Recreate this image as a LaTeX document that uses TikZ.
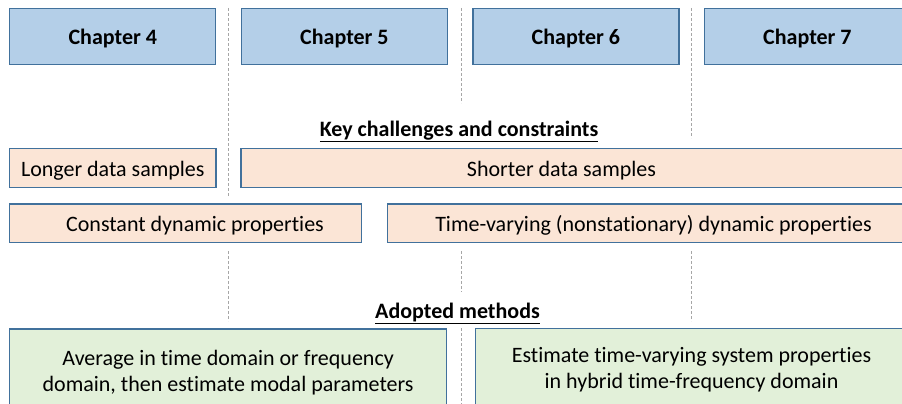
\documentclass[tikz,border=0pt]{standalone}
\usepackage{fontspec}
\setmainfont{Carlito}[Ligatures={NoCommon,NoRare}]
\definecolor{chapblue}{HTML}{B4CFE8}
\definecolor{peachfill}{HTML}{FBE5D6}
\definecolor{greenfill}{HTML}{E2F0D9}
\definecolor{edgeblue}{HTML}{41719C}
\definecolor{guidegrey}{HTML}{A6A6A6}
\begin{document}
\begin{tikzpicture}[x=1pt,y=-1pt,
    chapbox/.style={draw=edgeblue,line width=1.3pt,fill=chapblue,minimum width=206pt,minimum height=56pt,text height=16pt,text depth=0pt,font=\fontsize{22}{26}\selectfont\bfseries},
    factbox/.style={draw=edgeblue,line width=1.3pt,fill=peachfill,minimum height=38.6pt,text height=16pt,text depth=0pt,font=\fontsize{22}{26}\selectfont},
    facttext/.style={text height=16pt,text depth=0pt,font=\fontsize{22}{26}\selectfont},
    methbox/.style={draw=edgeblue,line width=1.3pt,fill=greenfill,align=center,font=\fontsize{22}{26}\selectfont},
    guide/.style={guidegrey,line width=0.9pt,dash pattern=on 3pt off 2pt},
    heading/.style={font=\fontsize{22}{26}\selectfont\bfseries}]
      \useasboundingbox (0,0) rectangle (902,404);
      \clip (0,0) rectangle (902,404);
      % dividers between chapters
      \draw[guide] (228.3,8) -- (228.3,197);
      \draw[guide] (461,8) -- (461,103);
      \draw[guide] (691.7,8) -- (691.7,138);
      \draw[guide] (228.3,251) -- (228.3,321);
      \draw[guide] (461,251) -- (461,292);
      \draw[guide] (461,328) -- (461,404);
      \draw[guide] (691.7,251) -- (691.7,321);
      % chapters
      \draw (112.8,36.5) node[chapbox] (c4) {Chapter 4};
      \draw (344.4,36.5) node[chapbox] (c5) {Chapter 5};
      \draw (575.9,36.5) node[chapbox] (c6) {Chapter 6};
      \draw (807.4,36.5) node[chapbox] (c7) {Chapter 7};
      % challenges
      \draw (459,131.5) node[heading] (key) {\underline{Key challenges and constraints}};
      \draw (112.8,168) node[factbox,minimum width=206.5pt] (long) {Longer data samples};
      \draw (575.5,168) node[factbox,minimum width=669pt] (short) {};
      \draw (561.5,168) node[facttext] (shorttxt) {Shorter data samples};
      \draw (185.6,223.3) node[factbox,minimum width=352.2pt] (const) {};
      \draw (195,223.3) node[facttext] (consttxt) {Constant dynamic properties};
      \draw (653.5,223.3) node[factbox,minimum width=532.4pt] (vary) {Time-varying (nonstationary) dynamic properties};
      % methods
      \draw (457.5,313.5) node[heading] (adopt) {\underline{Adopted methods}};
      \draw (228.1,372.5) node[methbox,minimum width=437.2pt,minimum height=87pt] (avg) {Average in time domain or frequency\\domain, then estimate modal parameters};
      \draw (691.5,369.5) node[methbox,minimum width=431.6pt,minimum height=81.6pt] (hyb) {Estimate time-varying system properties\\in hybrid time-frequency domain};
\end{tikzpicture}
\end{document}
